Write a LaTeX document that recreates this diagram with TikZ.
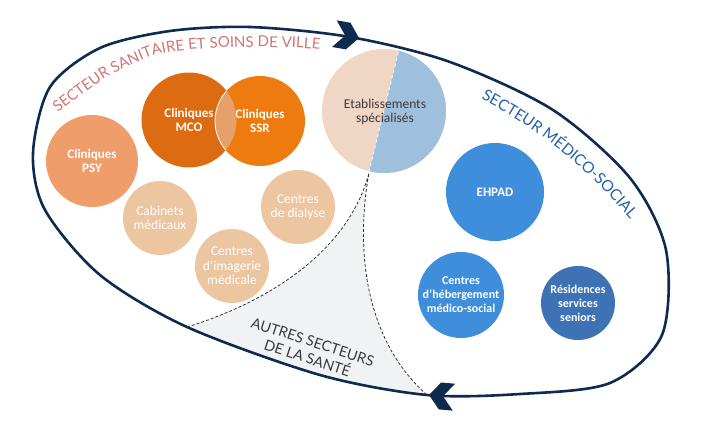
\documentclass[tikz,border=0pt]{standalone}
\usepackage{fontspec}
\setmainfont{Carlito}
\newfontfamily\latofont{Lato}
\usepackage{xcolor}
\usepackage{tikz}
\usetikzlibrary{calc,decorations.text}

\definecolor{navy}{HTML}{0E2A4F}
\definecolor{mco}{HTML}{DC6B12}
\definecolor{ssr}{HTML}{EE7B10}
\definecolor{lens}{HTML}{E6A06A}
\definecolor{psy}{HTML}{EF9D6A}
\definecolor{sand}{HTML}{ECC5A1}
\definecolor{peach}{HTML}{F0D6C5}
\definecolor{paleblue}{HTML}{9FC0DD}
\definecolor{ehpad}{HTML}{3E8EDB}
\definecolor{rss}{HTML}{3D73B4}
\definecolor{autres}{HTML}{F1F2F4}
\definecolor{rosetxt}{HTML}{D27474}
\definecolor{bluetxt}{HTML}{2262AD}
\definecolor{greytxt}{HTML}{3A3A3A}

\tikzset{
  bubble/.style={circle, inner sep=0pt, align=center, text=white,
    font=\fontsize{13.5}{14.5}\selectfont},
  boldbubble/.style={bubble, font=\bfseries\fontsize{13}{14.5}\selectfont},
  smallbubble/.style={bubble, font=\bfseries\fontsize{12}{14}\selectfont},
  border/.style={densely dashed, line width=0.8pt, black!80},
  flowtip/.pic={\fill[navy] (0,0) -- (-11,-13.5) -- (-25,-13.5) -- (-14,0)
    -- (-25,13.5) -- (-11,13.5) -- cycle;}
}

\begin{document}
\begin{tikzpicture}[x=1pt, y=-1pt]
    \useasboundingbox (0,0) rectangle (707,423);

    % Limits of the third sector
    \coordinate (leftfoot) at (187,327);
    \coordinate (split) at (369,173);
    \coordinate (rightfoot) at (427,395);

    % Grey area
    \begin{scope}
        \clip plot[smooth cycle] coordinates {(33,153) (50,87) (100,48) (170,31) (250,27) (350,37) (450,62) (553,110) (630,178) (666,250) (662,335) (610,383) (520,394) (427,395) (320,375) (187,327) (100,275) (45,210)};
        \fill[autres] (leftfoot) .. controls (268,302) and (348,252) .. (split)
            .. controls (355,250) and (365,340) .. (rightfoot)
            -- (427,430) -- (187,430) -- cycle;
    \end{scope}

    % Outline
    \draw[navy, line width=2.6pt] plot[smooth cycle] coordinates {(33,153) (50,87) (100,48) (170,31) (250,27) (350,37) (450,62) (553,110) (630,178) (666,250) (662,335) (610,383) (520,394) (427,395) (320,375) (187,327) (100,275) (45,210)};
    \pic[rotate=-10] at (359,38) {flowtip};
    \pic[rotate=175] at (429,395) {flowtip};

    % Sector titles
    \begin{scope}[shift={(58,113)}]
    \path[decorate, decoration={text along path, text align=left,
        text={|\latofont\fontsize{15}{18}\selectfont\color{rosetxt}|SECTEUR SANITAIRE ET SOINS DE VILLE}}]
        plot[smooth] coordinates {(0,0) (49,-36) (98,-58) (141,-64) (191,-66) (241,-65) (271,-62) (311,-53)};
    \end{scope}
    \begin{scope}[shift={(481,99)}]
    \path[decorate, decoration={text along path, text align=left,
        text={|\latofont\fontsize{15.5}{18}\selectfont\color{bluetxt}|SECTEUR M{\'E}DICO-SOCIAL}}]
        (0,0) .. controls (50,26) and (110,66) .. (174,151);
    \end{scope}

    % Sanitaire
    \node[boldbubble, fill=psy, minimum size=92pt] (psy) at (92,161) {Cliniques\\PSY};
    \node[boldbubble, fill=mco, minimum size=95pt] (mco) at (189,120) {Cliniques\\MCO};
    \node[boldbubble, fill=ssr, minimum size=90pt] (ssr) at (260,121) {Cliniques\\SSR};
    \begin{scope}
        \clip (mco.center) circle (47.5);
        \fill[lens] (ssr.center) circle (45);
        \draw[white, line width=0.8pt] (ssr.center) circle (45);
    \end{scope}
    \node[bubble, fill=sand, minimum size=74pt] (cabinets) at (160,218) {Cabinets\\médicaux};
    \node[bubble, fill=sand, minimum size=74pt] (dialyse) at (298,207) {Centres\\de dialyse};
    \node[bubble, fill=sand, minimum size=74pt] (imagerie) at (232,266) {Centres\\d’imagerie\\médicale};

    % Shared
    \fill[peach] (384,111) circle (62);
    \begin{scope}
        \clip (384,111) circle (62);
        \fill[paleblue] (404,29) -- (363,196) -- (460,196) -- (460,29) -- cycle;
        \draw[white, dashed, line width=0.8pt] (404,29) -- (363,196);
    \end{scope}
    \node[bubble, text=greytxt, minimum size=124pt] (etab) at (385,112) {Etablissements\\spécialisés};

    % Medico-social
    \node[boldbubble, fill=ehpad, minimum size=98pt] (ehpad) at (495,192) {EHPAD};
    \node[smallbubble, fill=ehpad, minimum size=86pt] (heberg) at (461,295) {Centres\\d’hébergement\\médico-social};
    \node[smallbubble, fill=rss, minimum size=74pt] (rss) at (578,303) {Résidences\\services\\seniors};

    % Others
    \draw[border] (leftfoot) .. controls (268,302) and (348,252) .. (split)
        .. controls (355,250) and (365,340) .. (rightfoot);
    \node[rotate=-18, align=center, text=greytxt,
        font=\latofont\fontsize{14.5}{17}\selectfont] (autres) at (310,350) {AUTRES SECTEURS\\DE LA SANTÉ};

\end{tikzpicture}
\end{document}
